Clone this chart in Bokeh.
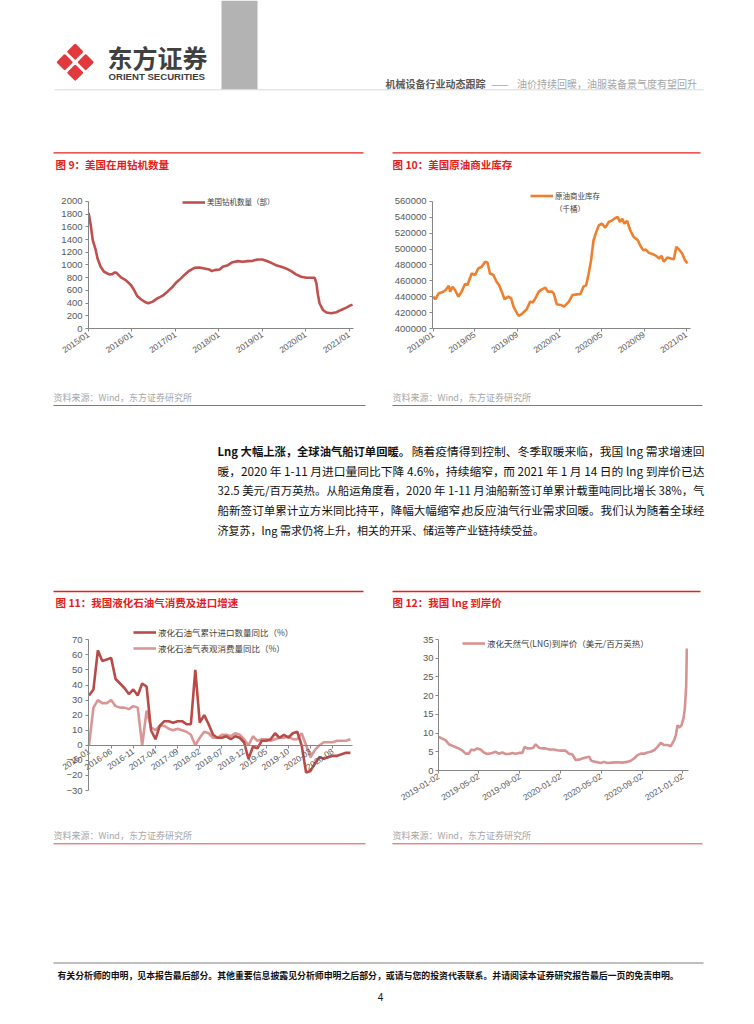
import numpy as np
import pandas as pd
from datetime import datetime
from bokeh.plotting import figure
from bokeh.layouts import column, row
from bokeh.models import (Range1d, FixedTicker, DatetimeTickFormatter, NumeralTickFormatter,
                          Legend, LegendItem, Spacer)
from bokeh.core.properties import value
from bokeh.embed import file_html
from bokeh.resources import INLINE

# ---------------- data ----------------
rig_dates = ["2015-01-02", "2015-01-20", "2015-02-06", "2015-03-03", "2015-03-18", "2015-04-13",
             "2015-05-12", "2015-06-24", "2015-07-20", "2015-08-10", "2015-08-25", "2015-10-01",
             "2015-11-10", "2015-12-24", "2016-01-19", "2016-02-14", "2016-03-17", "2016-04-23",
             "2016-05-19", "2016-06-24", "2016-08-03", "2016-09-16", "2016-10-26", "2016-12-09",
             "2017-01-15", "2017-02-17", "2017-03-22", "2017-04-27", "2017-06-10", "2017-07-20",
             "2017-09-02", "2017-10-12", "2017-11-03", "2017-11-25", "2018-01-08", "2018-02-03",
             "2018-03-18", "2018-04-27", "2018-06-10", "2018-07-20", "2018-09-02", "2018-10-12",
             "2018-11-25", "2019-01-01", "2019-02-03", "2019-03-18", "2019-04-27", "2019-06-10",
             "2019-07-20", "2019-09-02", "2019-10-12", "2019-11-25", "2020-01-08", "2020-02-17",
             "2020-03-17", "2020-04-01", "2020-04-12", "2020-04-27", "2020-05-26", "2020-06-24",
             "2020-08-03", "2020-09-16", "2020-10-26", "2020-12-09", "2021-01-08", "2021-01-30"]
rig_counts = [1817, 1624, 1389, 1232, 1102, 971, 893, 851, 856, 882, 877, 804, 762, 684,
              606, 512, 460, 413, 397, 423, 475, 517, 580, 658,
              736, 789, 851, 908, 955, 961, 945, 929, 903, 919,
              929, 971, 997, 1044, 1060, 1050, 1060, 1065, 1086,
              1086, 1065, 1034, 997, 971, 945, 903, 851, 815,
              799, 799, 799, 710, 553, 397, 292, 251, 240, 256, 292, 329,
              360, 376]
rig_ticks = ["2015-01-01", "2016-01-01", "2017-01-01", "2018-01-01", "2019-01-01",
             "2020-01-01", "2021-01-01"]

crude_dates = ["2019-01-01", "2019-01-07", "2019-01-17", "2019-01-27", "2019-02-06", "2019-02-15",
               "2019-02-19", "2019-02-26", "2019-03-05", "2019-03-15", "2019-03-24", "2019-04-03",
               "2019-04-10", "2019-04-22", "2019-05-02", "2019-05-11", "2019-05-21", "2019-05-31",
               "2019-06-07", "2019-06-14", "2019-06-24", "2019-07-03", "2019-07-10", "2019-07-18",
               "2019-07-26", "2019-08-06", "2019-08-14", "2019-08-21", "2019-08-31", "2019-09-05",
               "2019-09-14", "2019-09-28", "2019-10-08", "2019-10-16", "2019-10-23", "2019-11-02",
               "2019-11-11", "2019-11-21", "2019-11-28", "2019-12-10", "2019-12-15", "2019-12-24",
               "2020-01-04", "2020-01-14", "2020-01-28", "2020-02-07", "2020-02-21", "2020-03-01",
               "2020-03-10", "2020-03-18", "2020-03-25", "2020-04-01", "2020-04-08", "2020-04-16",
               "2020-04-23", "2020-05-02", "2020-05-12", "2020-05-22", "2020-06-01", "2020-06-10",
               "2020-06-17", "2020-06-23", "2020-06-30", "2020-07-06", "2020-07-14", "2020-07-23",
               "2020-08-02", "2020-08-14", "2020-08-22", "2020-08-30", "2020-09-06", "2020-09-15",
               "2020-09-28", "2020-10-07", "2020-10-14", "2020-10-21", "2020-10-28", "2020-11-07",
               "2020-11-18", "2020-11-26", "2020-12-03", "2020-12-11", "2020-12-20", "2020-12-27",
               "2021-01-04"]
crude_stock = [440100, 436800, 444300, 445500, 448500, 453900, 446400, 452600, 448500, 440100,
               446400, 456000, 454700, 469300, 467300, 475600, 477700, 484000, 482700, 469300,
               467300, 458900, 454700, 446400, 436800, 440100, 438000, 427600, 419200, 415900,
               418400, 424200, 433800, 433000, 438000, 446400, 449300, 451400, 446400, 446400,
               444300, 430500, 429700, 427600, 433800, 442200, 443000, 443400, 452600, 454700,
               469300, 486100, 511100, 521600, 529900, 532000, 527000, 534100, 536200, 539100,
               540400, 534100, 538200, 532000, 535300, 523700, 515300, 511100, 503600, 498600,
               499400, 495200, 493200, 491100, 488100, 491500, 484000, 489400, 488100, 487300,
               502800, 499400, 494400, 486900, 481900]
crude_ticks = ["2019-01-01", "2019-05-01", "2019-09-01", "2020-01-01", "2020-05-01",
               "2020-09-01", "2021-01-01"]

lpg_months = [f"{y}-{m:02d}" for y in range(2016, 2021) for m in range(1, 13)]
lpg_import = [33, 37, 63, 56, 57, 58, 44, 41, 38, 34,
              37, 33, 41, 39, 10, 4, 13, 16, 16, 15,
              16, 16, 14, 14, 50, 15, 20, 14, 7, 5,
              5, 6, 4, 6, 5, 2, -9, -1, -2, 3,
              3, 4, 8, 5, 7, 5, 8, 9, 0, -18,
              -17, -12, -8, -9, -8, -7, -7, -6, -5, -5]
lpg_consume = [0, 25, 30, 28, 28, 30, 26, 25, 25, 24,
               26, 25, 0, 23, 12, 10, 13, 13, 11, 10,
               11, 10, 9, 7, 0, 5, 9, 8, 5, 5,
               7, 7, 6, 8, 7, 4, 0, 6, 3, 4,
               4, 3, 4, 5, 5, 6, 4, 4, 8, 0,
               -8, -3, 0, 2, 2, 2, 3, 3, 3, 4]
lpg_tick_labels = ["2016-01", "2016-06", "2016-11", "2017-04", "2017-09", "2018-02",
                   "2018-07", "2018-12", "2019-05", "2019-10", "2020-03", "2020-08"]

lng_dates = ["2019-01-02", "2019-01-12", "2019-01-22", "2019-02-01", "2019-02-11", "2019-02-26",
             "2019-03-13", "2019-03-23", "2019-04-02", "2019-04-09", "2019-04-17", "2019-04-27",
             "2019-05-07", "2019-05-17", "2019-05-27", "2019-06-11", "2019-06-21", "2019-07-01",
             "2019-07-11", "2019-07-21", "2019-07-31", "2019-08-10", "2019-08-20", "2019-08-30",
             "2019-09-09", "2019-09-16", "2019-09-24", "2019-10-04", "2019-10-12", "2019-10-19",
             "2019-10-29", "2019-11-08", "2019-11-18", "2019-11-28", "2019-12-13", "2019-12-23",
             "2020-01-02", "2020-01-17", "2020-01-27", "2020-02-06", "2020-02-16", "2020-02-26",
             "2020-03-07", "2020-03-17", "2020-03-27", "2020-04-03", "2020-04-16", "2020-05-01",
             "2020-05-11", "2020-05-21", "2020-06-05", "2020-06-20", "2020-07-05", "2020-07-20",
             "2020-07-30", "2020-08-09", "2020-08-19", "2020-08-29", "2020-09-08", "2020-09-18",
             "2020-09-28", "2020-10-08", "2020-10-18", "2020-10-28", "2020-11-07", "2020-11-17",
             "2020-11-27", "2020-12-07", "2020-12-12", "2020-12-17", "2020-12-22", "2020-12-29",
             "2021-01-04", "2021-01-08", "2021-01-12", "2021-01-14"]
lng_price = [9.0, 8.5, 8.1, 7.0, 6.6, 6.1, 5.4, 4.5, 4.5, 5.6, 5.4, 5.9,
             5.6, 4.8, 4.4, 4.7, 5.0, 4.5, 4.8, 4.4, 4.4, 4.7, 4.5, 4.7,
             4.7, 6.3, 5.9, 5.9, 6.1, 7.0, 6.1, 5.9, 5.9, 5.6, 5.6, 5.4,
             5.3, 5.3, 4.5, 4.3, 2.8, 2.9, 3.2, 3.5, 3.7, 2.6, 2.3, 2.0,
             2.3, 2.0, 2.1, 2.2, 2.1, 2.3, 2.6, 3.2, 4.1, 4.5, 4.5, 4.8,
             5.0, 5.4, 6.3, 7.4, 6.8, 6.8, 6.5, 8.1, 9.4, 12.1, 11.5, 12.1,
             13.9, 16.6, 22.4, 32.6]
lng_ticks = ["2019-01-02", "2019-05-02", "2019-09-02", "2020-01-02", "2020-05-02",
             "2020-09-02", "2021-01-02"]

# ---------------- texts ----------------
header_left = "机械设备行业动态跟踪"
header_right = "油价持续回暖，油服装备景气度有望回升"
title9 = "图 9：美国在用钻机数量"
title10 = "图 10：美国原油商业库存"
title11 = "图 11：我国液化石油气消费及进口增速"
title12 = "图 12：我国 lng 到岸价"
source = "资料来源：Wind，东方证券研究所"
para_bold = "Lng 大幅上涨，全球油气船订单回暖。"
# each justified line: (left-aligned part, right-aligned part, font size)
para_lines = [("", "随着疫情得到控制、冬季取暖来临，我国 lng 需求增速回", 11.75),
              ("暖，2020 年 1-11 月进口量同比下降 4.6%，持续缩窄，", "而 2021 年 1 月 14 日的 lng 到岸价已达", 11.75),
              ("32.5 美元/百万英热。从船运角度看，2020 年 1-11 月", "油船新签订单累计载重吨同比增长 38%，气", 11.4),
              ("船新签订单累计立方米同比持平，降幅大幅缩窄，", "也反应油气行业需求回暖。我们认为随着全球经", 11.55),
              ("济复苏，lng 需求仍将上升，相关的开采、储运等产业链持续受益。", "", 11)]
footer = "有关分析师的申明，见本报告最后部分。其他重要信息披露见分析师申明之后部分，或请与您的投资代表联系。并请阅读本证券研究报告最后一页的免责申明。"

# ---------------- styles ----------------
CJK = "Noto Sans CJK SC"
LAT = "Liberation Sans"
RED = "#E3201B"
RED2 = "#D9534F"
AXC = "#868686"
TICKC = "#595959"
W = 738


def ms(d):
    return pd.Timestamp(d).value / 1e6


def page_fig(x0, x1, top, bottom):
    f = figure(width=x1 - x0, height=bottom - top, x_range=Range1d(x0, x1),
               y_range=Range1d(bottom, top), output_backend="svg", toolbar_location=None,
               x_axis_location=None, y_axis_location=None, min_border=0)
    f.grid.visible = False
    f.outline_line_color = None
    return f


def put(f, x, y, s, size, color, font=CJK, bold=False, align="left"):
    f.text(x=[x], y=[y], text=[s], text_font=value(font), text_font_size=value(f"{size}px"),
           text_color=color, text_align=align, text_baseline="middle",
           text_font_style="bold" if bold else "normal")


def hline(f, x0, x1, y, color, width):
    f.segment(x0=[x0], y0=[y], x1=[x1], y1=[y], line_color=color, line_width=width)


def chart_fig(width, height, xr, yr, left, right, top, bottom, x_type="linear", angle=0.6):
    f = figure(width=width, height=height, x_range=xr, y_range=yr, x_axis_type=x_type,
               output_backend="svg", toolbar_location=None,
               min_border_left=left, min_border_right=right,
               min_border_top=top, min_border_bottom=bottom)
    f.grid.visible = False
    f.outline_line_color = None
    for ax in f.axis:
        ax.axis_line_color = AXC
        ax.major_tick_line_color = AXC
        ax.minor_tick_line_color = None
        ax.major_tick_in = 0
        ax.major_tick_out = 3
        ax.major_label_text_font = LAT
        ax.major_label_text_color = TICKC
        ax.major_label_standoff = 3
    f.yaxis.major_label_text_font_size = "9.5px"
    f.xaxis.major_label_text_font_size = "8.5px"
    f.xaxis.major_label_orientation = angle
    f.xaxis.major_label_standoff = 2
    return f


def add_legend(f, items, loc, size, gh, spacing=0):
    leg = Legend(items=items, location=loc, label_text_font=CJK,
                 label_text_font_size=f"{size}px", label_text_color="#404040",
                 glyph_width=23, glyph_height=gh, label_height=gh, label_standoff=2,
                 padding=0, margin=0, spacing=spacing, border_line_color=None,
                 background_fill_alpha=0)
    f.add_layout(leg)


# ---------------- header (page y 0..178) ----------------
fA = page_fig(0, W, 0, 178)
fA.quad(left=[221], right=[257], top=[0], bottom=[89], fill_color="#b3b3b3", line_color=None)
fA.scatter(x=[64.2, 85.2, 74.7, 74.7], y=[61.7, 61.7, 51.2, 72.2], marker="square", size=9,
           angle=np.pi / 4, fill_color="#E0393E", line_color="#E0393E", line_width=3,
           line_join="round")
put(fA, 107, 56.5, "东方证券", 25, "#404040", bold=True)
put(fA, 108, 76, "ORIENT SECURITIES", 9.6, "#404040", font=LAT, bold=True)
hline(fA, 54, 703, 89.3, "#d9d9d9", 1)
put(fA, 385, 83, header_left, 10, "#595959", bold=True)
put(fA, 491, 83, "——", 10, "#a6a6a6")
put(fA, 516.5, 83, header_right, 10, "#a6a6a6")
hline(fA, 53, 363, 152.3, RED, 1.3)
hline(fA, 392, 700, 152.3, RED, 1.3)
put(fA, 55, 163.5, title9, 10.5, RED, bold=True)
put(fA, 392, 163.5, title10, 10.5, RED, bold=True)

# ---------------- chart 9 (row 178..362, frame 190..329) ----------------
f9 = chart_fig(327, 184, Range1d(datetime(2015, 1, 1), datetime(2021, 2, 7)),
               Range1d(0, 2171.9), 43, 19, 12, 33, "datetime")
r9 = f9.line(pd.to_datetime(rig_dates), rig_counts, line_color="#C0504D", line_width=2.6)
f9.yaxis.ticker = FixedTicker(ticks=list(range(0, 2001, 200)))
f9.yaxis.bounds = (0, 2000)
f9.xaxis.ticker = FixedTicker(ticks=[ms(d) for d in rig_ticks])
f9.xaxis.formatter = DatetimeTickFormatter(years="%Y/%m", months="%Y/%m", days="%Y/%m")
add_legend(f9, [LegendItem(label="美国钻机数量（部）", renderers=[r9])], (94, 121), 7.5, 10)

# ---------------- chart 10 ----------------
f10 = chart_fig(344, 184, Range1d(datetime(2018, 12, 30), datetime(2021, 1, 13)),
                Range1d(400000, 573750), 60, 26, 12, 33, "datetime")
r10 = f10.line(pd.to_datetime(crude_dates), crude_stock, line_color="#EE7F2D", line_width=2.6)
r10u = f10.line([], [], line_alpha=0)
f10.yaxis.ticker = FixedTicker(ticks=list(range(400000, 560001, 20000)))
f10.yaxis.bounds = (400000, 560000)
f10.yaxis.formatter = NumeralTickFormatter(format="0")
f10.xaxis.ticker = FixedTicker(ticks=[ms(d) for d in crude_ticks])
f10.xaxis.formatter = DatetimeTickFormatter(years="%Y/%m", months="%Y/%m", days="%Y/%m")
add_legend(f10, [LegendItem(label="原油商业库存", renderers=[r10]),
                 LegendItem(label="（千桶）", renderers=[r10u])], (98, 114), 7.5, 9, spacing=2)

# ---------------- middle (page y 362..610) ----------------
fC = page_fig(0, W, 362, 610)
put(fC, 53, 397, source, 9, "#a6a6a6")
put(fC, 392, 397, source, 9, "#a6a6a6")
hline(fC, 53, 365, 405, RED2, 1)
hline(fC, 392, 702, 405, RED2, 1)
put(fC, 217, 450, para_bold, 11.3, "#111111", bold=True)
for i, (lt, rt, fs) in enumerate(para_lines):
    yy = 450 + 19.75 * i
    if lt:
        put(fC, 217, yy, lt, fs, "#111111")
    if rt:
        put(fC, 704, yy, rt, fs, "#111111", align="right")
hline(fC, 53, 363, 591, RED, 1.3)
hline(fC, 392, 700, 591, RED, 1.3)
put(fC, 55, 601.5, title11, 10.5, RED, bold=True)
put(fC, 392, 601.5, title12, 10.5, RED, bold=True)

# ---------------- chart 11 (fig x 20..372, y 610..829; frame x 48..372, y 620..797) ----------------
f11 = chart_fig(352, 219, Range1d(-9.14, 63.99), Range1d(-34.645, 82.81), 28, 0, 10, 32)
xi = list(range(len(lpg_months)))
r11b = f11.line(xi, lpg_consume, line_color="#D99694", line_width=2.6)
r11a = f11.line(xi, lpg_import, line_color="#B84B48", line_width=2.6)
f11.yaxis.ticker = FixedTicker(ticks=list(range(-30, 71, 10)))
f11.yaxis.bounds = (-30, 70)
f11.yaxis.fixed_location = -0.1
tick_idx = [lpg_months.index(l) for l in lpg_tick_labels]
f11.xaxis.ticker = FixedTicker(ticks=tick_idx)
f11.xaxis.major_label_overrides = {i: l for i, l in zip(tick_idx, lpg_tick_labels)}
f11.xaxis.fixed_location = 0
f11.xaxis.bounds = (-0.1, 59.48)
add_legend(f11, [LegendItem(label="液化石油气累计进口数量同比（%）", renderers=[r11a]),
                 LegendItem(label="液化石油气表观消费量同比（%）", renderers=[r11b])],
           (85, 143), 8.5, 12, spacing=4)

# ---------------- chart 12 (fig x 372..716, y 610..808; frame x 438..688, y 620..770) ----------------
f12 = chart_fig(344, 198, Range1d(datetime(2019, 1, 1), datetime(2021, 1, 19)),
                Range1d(0, 40.08), 66, 28, 10, 38, "datetime", angle=0.55)
r12 = f12.line(pd.to_datetime(lng_dates), lng_price, line_color="#D59392", line_width=2.6)
f12.yaxis.ticker = FixedTicker(ticks=list(range(0, 36, 5)))
f12.yaxis.bounds = (0, 35)
f12.yaxis.major_label_standoff = 2
f12.xaxis.ticker = FixedTicker(ticks=[ms(d) for d in lng_ticks])
f12.xaxis.formatter = DatetimeTickFormatter(years="%Y-%m-%d", months="%Y-%m-%d", days="%Y-%m-%d")
add_legend(f12, [LegendItem(label="液化天然气(LNG)到岸价（美元/百万英热）", renderers=[r12])],
           (24, 121), 8.5, 12)

# ---------------- footer (page y 829..1008) ----------------
fE = page_fig(0, W, 829, 1008)
put(fE, 53, 834.8, source, 9, "#a6a6a6")
put(fE, 392, 834.8, source, 9, "#a6a6a6")
hline(fE, 53, 365, 843.3, RED2, 1)
hline(fE, 392, 702, 843.3, RED2, 1)
hline(fE, 53, 703, 962.5, "#7f7f7f", 1)
put(fE, 57, 974.5, footer, 8.9, "#111111", bold=True)
put(fE, 380, 996, "4", 10, "#111111", font=LAT, align="center")

layout = column(
    fA,
    row(Spacer(width=45, height=184), f9, f10, Spacer(width=22, height=184)),
    fC,
    row(Spacer(width=20, height=219), column(f11), column(f12, Spacer(width=344, height=21)),
        Spacer(width=22, height=219)),
    fE,
)

open("out.html", "w").write(file_html(layout, INLINE))
